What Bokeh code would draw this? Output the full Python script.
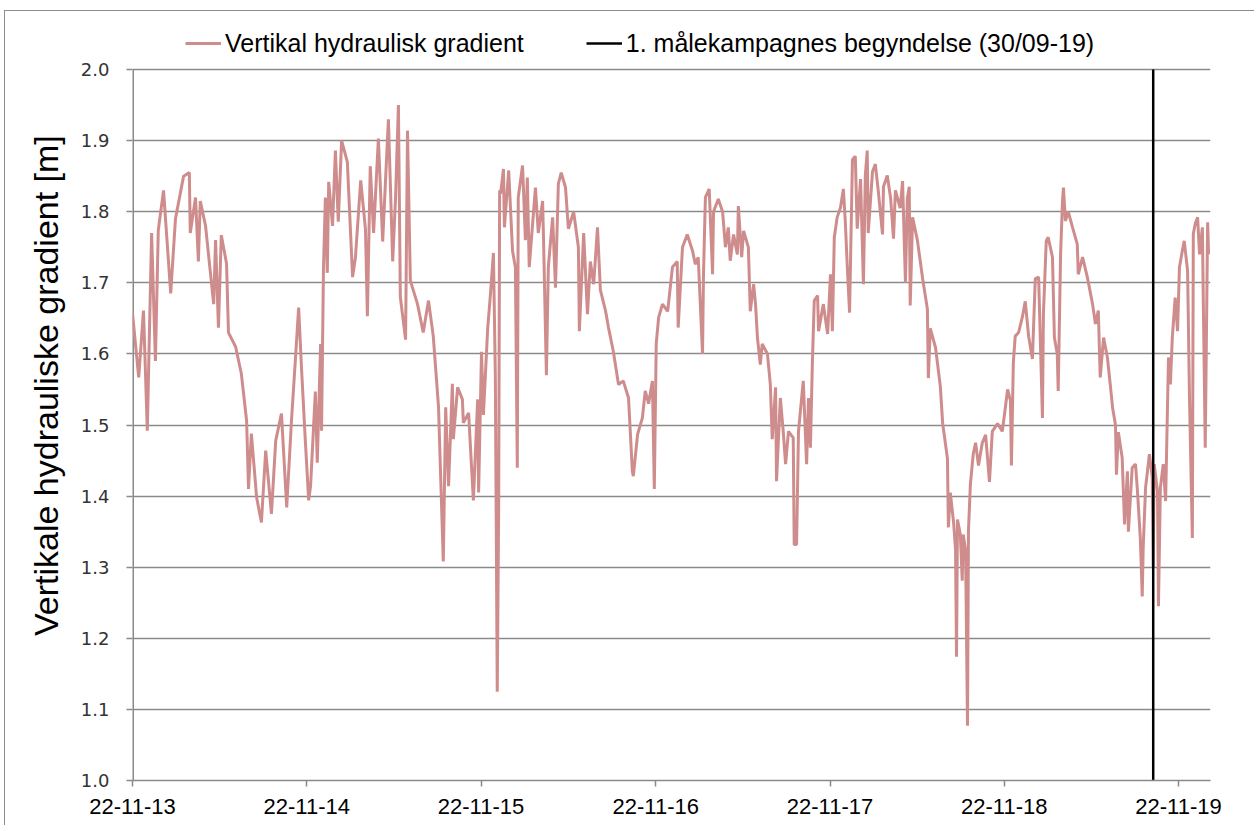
import pandas as pd
from bokeh.plotting import figure
from bokeh.models import FixedTicker, NumeralTickFormatter, DatetimeTickFormatter, Legend, LegendItem, Range1d
from bokeh.embed import file_html
from bokeh.resources import INLINE

# ---- data ----
start_date = "2013-11-22"
x_end_date = "2020-01-28"
campaign_date = "2019-09-30"
tick_dates = ["2013-11-22", "2014-11-22", "2015-11-22", "2016-11-22",
              "2017-11-22", "2018-11-22", "2019-11-22"]
y_ticks = [1.0, 1.1, 1.2, 1.3, 1.4, 1.5, 1.6, 1.7, 1.8, 1.9, 2.0]
y_min, y_max = 1.0, 2.0

# days after start_date, and vertical hydraulic gradient [m]
days_y1 = [0, 13, 23, 31, 40, 48, 54, 65, 80, 90,
           107, 119, 121, 132, 138, 142, 153, 170, 174, 180,
           186, 197, 201, 216, 228, 239, 243, 249, 260, 270,
           279, 291, 300, 312, 323, 333, 341, 348, 354, 362,
           369]
grad_y1 = [1.657, 1.567, 1.661, 1.492, 1.77, 1.59, 1.774, 1.83, 1.685, 1.79,
           1.85, 1.855, 1.77, 1.82, 1.73, 1.815, 1.78, 1.67, 1.76, 1.637,
           1.767, 1.727, 1.63, 1.61, 1.572, 1.506, 1.41, 1.488, 1.398, 1.363,
           1.464, 1.375, 1.478, 1.516, 1.384, 1.506, 1.59, 1.665, 1.58, 1.478,
           1.394]

days_y2 = [373, 383, 387, 394, 396, 400, 404, 408, 411, 419,
           425, 431, 438, 450, 461, 467, 478, 488, 492, 498,
           505, 515, 524, 536, 545, 551, 557, 561, 572, 576,
           582, 597, 609, 620, 630, 641, 651, 656, 662, 670,
           672, 681, 691, 693, 704, 714, 723, 725, 731, 735,
           744, 750, 756, 760, 764, 767, 769]
grad_y2 = [1.414, 1.547, 1.447, 1.614, 1.492, 1.72, 1.82, 1.714, 1.842, 1.78,
           1.886, 1.786, 1.90, 1.87, 1.708, 1.736, 1.844, 1.775, 1.653, 1.864,
           1.77, 1.903, 1.758, 1.93, 1.73, 1.82, 1.95, 1.68, 1.62, 1.914,
           1.703, 1.67, 1.63, 1.675, 1.625, 1.525, 1.308, 1.525, 1.414, 1.558,
           1.48, 1.553, 1.536, 1.503, 1.517, 1.394, 1.536, 1.405, 1.603, 1.514,
           1.636, 1.686, 1.742, 1.569, 1.125, 1.386, 1.83]

days_y3 = [771, 777, 779, 788, 796, 802, 806, 808, 817, 823,
           827, 831, 844, 850, 859, 861, 867, 871, 880, 886,
           892, 898, 907, 913, 924, 934, 936, 945, 953, 959,
           966, 974, 980, 991, 997, 1007, 1018, 1028, 1039, 1047,
           1049, 1058, 1068, 1074, 1081, 1089, 1093, 1097, 1102, 1110,
           1121, 1131, 1141, 1143]
grad_y3 = [1.825, 1.86, 1.778, 1.858, 1.745, 1.722, 1.44, 1.82, 1.865, 1.76,
           1.848, 1.722, 1.834, 1.77, 1.815, 1.76, 1.57, 1.722, 1.792, 1.693,
           1.839, 1.855, 1.834, 1.776, 1.80, 1.75, 1.632, 1.77, 1.656, 1.73,
           1.698, 1.778, 1.69, 1.66, 1.637, 1.604, 1.557, 1.562, 1.538, 1.435,
           1.428, 1.487, 1.51, 1.548, 1.53, 1.562, 1.41, 1.614, 1.651, 1.67,
           1.66, 1.722, 1.73, 1.637]

days_y4 = [1152, 1162, 1173, 1179, 1185, 1194, 1196, 1200, 1208, 1215,
           1217, 1227, 1236, 1242, 1248, 1252, 1259, 1267, 1269, 1276,
           1280, 1290, 1294, 1301, 1305, 1309, 1315, 1319, 1330, 1336,
           1340, 1347, 1349, 1357, 1363, 1368, 1374, 1384, 1386, 1391,
           1395, 1403, 1405, 1412, 1416, 1420, 1424, 1428, 1435, 1437,
           1447, 1456, 1462, 1466, 1470, 1476, 1483, 1489, 1493, 1497,
           1502]
grad_y4 = [1.75, 1.768, 1.745, 1.726, 1.736, 1.60, 1.712, 1.82, 1.832, 1.712,
           1.80, 1.818, 1.80, 1.75, 1.778, 1.731, 1.768, 1.74, 1.808, 1.736,
           1.773, 1.75, 1.66, 1.698, 1.67, 1.623, 1.585, 1.614, 1.60, 1.557,
           1.48, 1.553, 1.421, 1.538, 1.491, 1.445, 1.491, 1.482, 1.332, 1.332,
           1.491, 1.548, 1.562, 1.445, 1.538, 1.468, 1.585, 1.675, 1.682, 1.632,
           1.67, 1.628, 1.712, 1.632, 1.764, 1.792, 1.806, 1.832, 1.787, 1.726,
           1.658]

days_y5 = [1508, 1514, 1518, 1525, 1531, 1535, 1539, 1541, 1550, 1556,
           1562, 1571, 1573, 1581, 1588, 1594, 1598, 1608, 1613, 1619,
           1623, 1627, 1629, 1634, 1644, 1655, 1665, 1667, 1671, 1682,
           1692, 1697, 1707, 1709, 1713, 1720, 1724, 1726, 1728, 1734,
           1738, 1740, 1745, 1749, 1751, 1755, 1761, 1766, 1772, 1780,
           1787, 1795, 1801, 1812, 1822, 1828, 1833, 1839, 1841, 1845,
           1849, 1856, 1864, 1870, 1877, 1885, 1891]
grad_y5 = [1.873, 1.878, 1.776, 1.846, 1.698, 1.851, 1.886, 1.77, 1.856, 1.867,
           1.83, 1.768, 1.835, 1.851, 1.819, 1.762, 1.83, 1.805, 1.843, 1.70,
           1.819, 1.835, 1.668, 1.792, 1.76, 1.706, 1.663, 1.566, 1.636, 1.609,
           1.555, 1.502, 1.453, 1.356, 1.405, 1.362, 1.324, 1.174, 1.367, 1.346,
           1.281, 1.346, 1.324, 1.077, 1.351, 1.416, 1.459, 1.475, 1.443, 1.475,
           1.486, 1.42, 1.491, 1.502, 1.491, 1.523, 1.55, 1.534, 1.443, 1.588,
           1.625, 1.63, 1.652, 1.674, 1.625, 1.593, 1.706]

days_y6 = [1898, 1906, 1908, 1914, 1918, 1927, 1931, 1937, 1939, 1944,
           1948, 1950, 1954, 1960, 1969, 1979, 1981, 1990, 2000, 2011,
           2017, 2023, 2027, 2034, 2042, 2048, 2053, 2059, 2061, 2065,
           2073, 2078, 2084, 2086, 2094, 2101, 2105, 2111, 2115, 2117,
           2122, 2126, 2130, 2136, 2138, 2140, 2147, 2149, 2153, 2159,
           2164, 2168, 2170, 2174, 2178, 2184, 2189, 2193, 2199, 2203,
           2210, 2214, 2220, 2222, 2226, 2231, 2235, 2241, 2243, 2247,
           2252, 2254]
grad_y6 = [1.708, 1.51, 1.656, 1.759, 1.764, 1.736, 1.623, 1.60, 1.548, 1.74,
           1.815, 1.834, 1.787, 1.80, 1.778, 1.754, 1.712, 1.736, 1.708, 1.67,
           1.642, 1.661, 1.567, 1.623, 1.595, 1.557, 1.524, 1.50, 1.43, 1.49,
           1.454, 1.36, 1.435, 1.35, 1.44, 1.445, 1.407, 1.341, 1.259, 1.327,
           1.412, 1.435, 1.459, 1.426, 1.30, 1.445, 1.407, 1.245, 1.412, 1.445,
           1.393, 1.529, 1.595, 1.557, 1.623, 1.679, 1.632, 1.722, 1.745, 1.759,
           1.717, 1.538, 1.341, 1.769, 1.783, 1.792, 1.74, 1.778, 1.67, 1.468,
           1.785, 1.74]

series_label = "Vertikal hydraulisk gradient"
campaign_label = "1. målekampagnes begyndelse (30/09-19)"
y_title = "Vertikale hydrauliske gradient [m]"

# ---- build ----
all_days = days_y1 + days_y2 + days_y3 + days_y4 + days_y5 + days_y6
all_grad = grad_y1 + grad_y2 + grad_y3 + grad_y4 + grad_y5 + grad_y6
start = pd.Timestamp(start_date)
dates = [start + pd.Timedelta(days=d) for d in all_days]

GRID = "#8A8A8A"
SERIES = "#CF8C8C"
NBSP = "\u00a0"

# the frame reaches a little above 2.0 so that the legend can sit there
FRAME_TOP = y_max + 41 / 711

p = figure(width=1250, height=815, x_axis_type="datetime",
           x_range=Range1d(start, pd.Timestamp(x_end_date)),
           y_range=Range1d(y_min, FRAME_TOP),
           output_backend="svg", toolbar_location=None,
           min_border_left=127, min_border_right=45,
           min_border_top=17, min_border_bottom=46)
p.outline_line_color = None
p.background_fill_color = "white"
p.border_fill_color = "white"

# y axis line only from 1.0 to 2.0, like the reference
p.line([start, start], [y_min, y_max], line_color=GRID, line_width=3)

r_series = p.line(dates, all_grad, line_color=SERIES, line_width=3)
cd = pd.Timestamp(campaign_date)
r_camp = p.line([cd, cd], [y_min, y_max], line_color="black", line_width=2.5)

# grid
p.xgrid.grid_line_color = None
p.ygrid.grid_line_color = GRID
p.ygrid.grid_line_width = 1.5
p.ygrid.ticker = FixedTicker(ticks=y_ticks)

# y axis
p.yaxis.ticker = FixedTicker(ticks=y_ticks)
p.yaxis.formatter = NumeralTickFormatter(format="0.0")
p.yaxis.axis_line_color = None
p.yaxis.major_tick_line_color = GRID
p.yaxis.major_tick_line_width = 1.5
p.yaxis.major_tick_in = 0
p.yaxis.major_tick_out = 6
p.yaxis.minor_tick_line_color = None
p.yaxis.major_label_text_font = "DejaVu Sans"
p.yaxis.major_label_text_font_size = "18px"
p.yaxis.major_label_text_color = "#333333"
p.yaxis.major_label_standoff = 17
# leading no-break spaces lift the centred title a little, as in the reference
p.yaxis.axis_label = NBSP * 4 + y_title
p.yaxis.axis_label_text_font = "Liberation Sans"
p.yaxis.axis_label_text_font_size = "34px"
p.yaxis.axis_label_text_font_style = "normal"
p.yaxis.axis_label_text_color = "black"
p.yaxis.axis_label_standoff = 13

# x axis
tick_ms = [pd.Timestamp(t).value / 1e6 for t in tick_dates]
p.xaxis.ticker = FixedTicker(ticks=tick_ms)
p.xaxis.formatter = DatetimeTickFormatter(days="%d-%m-%y", months="%d-%m-%y", years="%d-%m-%y")
p.xaxis.axis_line_color = GRID
p.xaxis.axis_line_width = 1.5
p.xaxis.major_tick_line_color = GRID
p.xaxis.major_tick_line_width = 1.5
p.xaxis.major_tick_in = 0
p.xaxis.major_tick_out = 6
p.xaxis.minor_tick_line_color = None
p.xaxis.major_label_text_font = "Liberation Sans"
p.xaxis.major_label_text_font_size = "22px"
p.xaxis.major_label_text_color = "black"
p.xaxis.major_label_standoff = 12

# legend in the strip above the 2.0 gridline
legend = Legend(items=[LegendItem(label=series_label, renderers=[r_series]),
                       LegendItem(label=campaign_label, renderers=[r_camp])],
                location=(53, 722), orientation="horizontal",
                border_line_color=None, background_fill_alpha=0,
                padding=0, margin=0, spacing=62,
                glyph_width=36, glyph_height=30, label_standoff=4,
                label_text_font="Liberation Sans", label_text_font_size="25px",
                label_text_color="black", label_height=30)
p.add_layout(legend, "center")

p.styles = {"margin-left": "4px", "margin-top": "10px",
            "border-left": "1px solid #8C8C8C", "border-top": "1px solid #8C8C8C"}

open("out.html", "w").write(file_html(p, INLINE))
